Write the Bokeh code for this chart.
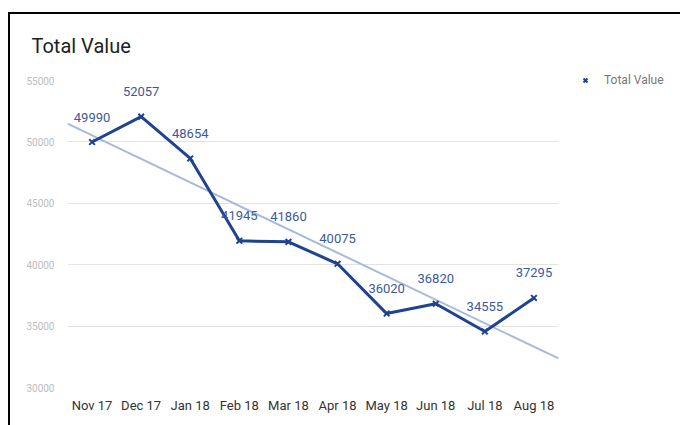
import numpy as np
from bokeh.plotting import figure
from bokeh.models import (Range1d, FixedTicker, Legend, LegendItem,
                          ColumnDataSource)
from bokeh.core.properties import value
from bokeh.embed import file_html
from bokeh.resources import INLINE

# ---- data ----
months = ["Nov 17", "Dec 17", "Jan 18", "Feb 18", "Mar 18",
          "Apr 18", "May 18", "Jun 18", "Jul 18", "Aug 18"]
total_value = [49990, 52057, 48654, 41945, 41860,
               40075, 36020, 36820, 34555, 37295]
y_ticks = [30000, 35000, 40000, 45000, 50000, 55000]
title_text = "Total Value"
series_name = "Total Value"

FONT = "Roboto"
LINE_COLOR = "#1f4391"
LABEL_COLOR = "#3b5a9b"
TREND_COLOR = "#a6badb"

idx = list(range(len(months)))
src = ColumnDataSource(dict(x=idx, y=total_value,
                            lbl=[str(v) for v in total_value]))

p = figure(frame_width=491, frame_height=307,
           output_backend="svg", toolbar_location=None,
           x_range=Range1d(-0.5, len(months) - 0.5),
           y_range=Range1d(y_ticks[0], y_ticks[-1]),
           min_border_left=67, min_border_right=122,
           min_border_top=80, min_border_bottom=38)
p.outline_line_color = None
p.background_fill_color = "white"
p.border_fill_alpha = 0
# black frame lines of the screenshot (top and left), drawn behind the canvas
p.styles = {
    "background": ("linear-gradient(#000,#000) 8px 12px / 100% 2px no-repeat, "
                   "linear-gradient(#000,#000) 8px 12px / 2px 100% no-repeat, #fff"),
}

# title
p.title.text = title_text
p.title.align = "left"
p.title.offset = -36
p.title.text_font = FONT
p.title.text_font_size = "20px"
p.title.text_font_style = "normal"
p.title.text_color = "#212121"
p.title.standoff = 46

# axes
p.xaxis.ticker = FixedTicker(ticks=idx)
p.xaxis.major_label_overrides = {i: m for i, m in zip(idx, months)}
p.xaxis.axis_line_color = None
p.xaxis.major_tick_line_color = None
p.xaxis.minor_tick_line_color = None
p.xaxis.major_label_text_font = FONT
p.xaxis.major_label_text_font_size = "13px"
p.xaxis.major_label_text_color = "#333333"
p.xaxis.major_label_standoff = 4

p.yaxis.ticker = FixedTicker(ticks=y_ticks)
p.yaxis.major_label_overrides = {t: str(t) for t in y_ticks}
p.yaxis.axis_line_color = None
p.yaxis.major_tick_line_color = None
p.yaxis.minor_tick_line_color = None
p.yaxis.major_label_text_font = FONT
p.yaxis.major_label_text_font_size = "10px"
p.yaxis.major_label_text_color = "#bdbdbd"
p.yaxis.major_label_standoff = 7

p.xgrid.grid_line_color = None
p.ygrid.grid_line_color = "#e3e3e3"
p.ygrid.grid_line_width = 1

# trendline (linear regression of the series)
slope, intercept = np.polyfit(idx, total_value, 1)
tx = [-0.5, len(months) - 0.5]
p.line(tx, [intercept + slope * t for t in tx], line_color=TREND_COLOR, line_width=2)

# series
p.line("x", "y", source=src, line_color=LINE_COLOR, line_width=3)
pts = p.scatter("x", "y", source=src, marker="x", size=8,
                line_color=LINE_COLOR, line_width=2)

p.text("x", "y", text="lbl", source=src, y_offset=-25,
       text_align="center", text_baseline="middle",
       text_font=value(FONT), text_font_size="13px", text_color=LABEL_COLOR)

# legend in the right panel
leg = Legend(items=[LegendItem(label=series_name, renderers=[pts])],
             location=(20, 300),
             border_line_alpha=0, background_fill_alpha=0,
             padding=0, margin=0, spacing=0,
             glyph_width=14, glyph_height=14, label_standoff=12,
             label_text_font=FONT, label_text_font_size="12px",
             label_text_color="#777777")
p.add_layout(leg, "right")

open("out.html", "w").write(file_html(p, INLINE))
